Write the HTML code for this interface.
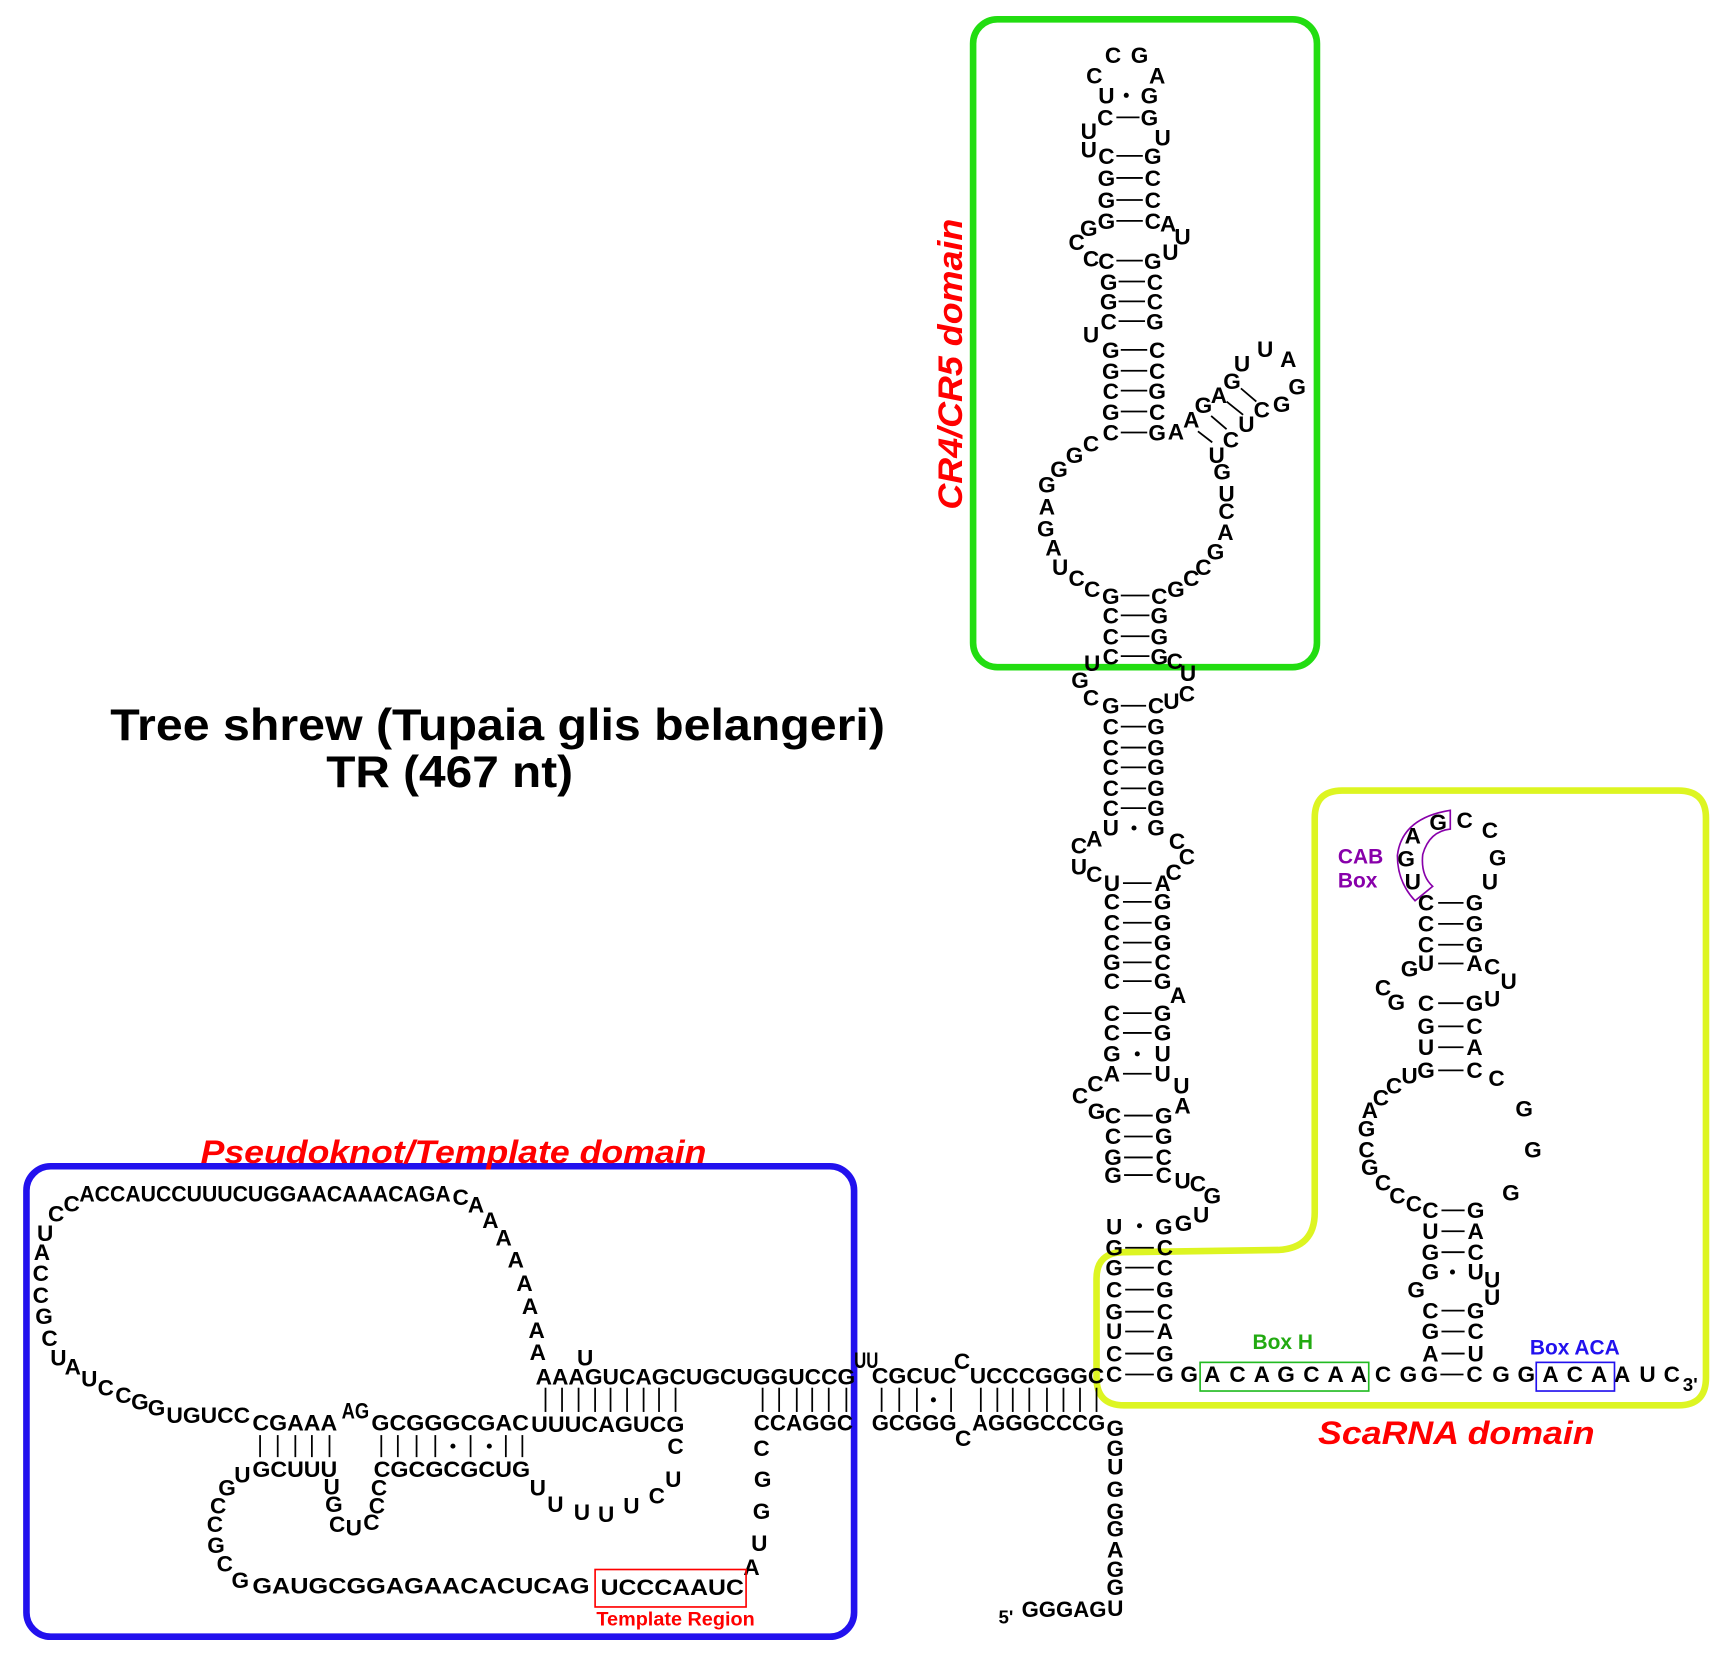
<!DOCTYPE html>
<html><head><meta charset="utf-8"><style>
html,body{margin:0;padding:0;background:#fff;}
svg{display:block}
.n{font-family:"Liberation Sans",sans-serif;font-weight:bold;font-size:20.5px;fill:#000;text-anchor:middle}
.r{font-family:"Liberation Sans",sans-serif;font-weight:bold;font-size:20.5px;fill:#000}
.p{stroke:#000;stroke-width:1.6}
</style></head><body>
<svg width="1728" height="1656" viewBox="0 0 1568 1503" preserveAspectRatio="none" xmlns="http://www.w3.org/2000/svg">
<g transform="translate(0,0.5)">
<!-- boxes -->
<rect x="883" y="17" width="312" height="588" rx="22" fill="none" stroke="#22dd11" stroke-width="6"/>
<rect x="24" y="1058" width="751" height="427" rx="22" fill="none" stroke="#2211ee" stroke-width="6"/>
<path d="M1218,717 H1523 Q1548,717 1548,742 V1250 Q1548,1275 1523,1275 H1020 Q995,1275 995,1250 V1160 Q995,1136 1020,1136 L1160,1134 Q1193,1132 1193,1100 V742 Q1193,717 1218,717 Z" fill="none" stroke="#ddf522" stroke-width="6"/>

<!-- titles -->
<text x="100" y="671" textLength="703" lengthAdjust="spacingAndGlyphs" style="font-family:'Liberation Sans',sans-serif;font-weight:bold;font-size:40px">Tree shrew (Tupaia glis belangeri)</text>
<text x="296" y="714" textLength="224" lengthAdjust="spacingAndGlyphs" style="font-family:'Liberation Sans',sans-serif;font-weight:bold;font-size:40px">TR (467 nt)</text>
<text transform="translate(873,462) rotate(-90)" textLength="264" lengthAdjust="spacingAndGlyphs" style="font-family:'Liberation Sans',sans-serif;font-weight:bold;font-style:italic;font-size:31px;fill:#ff0000">CR4/CR5 domain</text>
<text x="182" y="1055" textLength="459" lengthAdjust="spacingAndGlyphs" style="font-family:'Liberation Sans',sans-serif;font-weight:bold;font-style:italic;font-size:29px;fill:#ff0000">Pseudoknot/Template domain</text>
<text x="1196" y="1310" textLength="251" lengthAdjust="spacingAndGlyphs" style="font-family:'Liberation Sans',sans-serif;font-weight:bold;font-style:italic;font-size:29px;fill:#ff0000">ScaRNA domain</text>

<g transform="translate(0,0.5)">
<!-- CR4/CR5 -->
<g class="n">
<text x="1010" y="56">C</text><text x="1034" y="56">G</text><text x="993" y="75">C</text><text x="1050" y="75">A</text>
<text x="1004" y="93">U</text><text x="1043" y="93">G</text><text x="1003" y="113">C</text><text x="1043" y="113">G</text>
<text x="988" y="125">U</text><text x="1055" y="131">U</text><text x="988" y="142">U</text>
<text x="1004" y="148">C</text><text x="1046" y="148">G</text>
<text x="1004" y="168">G</text><text x="1046" y="168">C</text>
<text x="1004" y="188">G</text><text x="1046" y="188">C</text>
<text x="1004" y="207">G</text><text x="1046" y="207">C</text>
<text x="1060" y="209">A</text><text x="1073" y="221">U</text><text x="988" y="213">G</text><text x="977" y="226">C</text><text x="990" y="241">C</text>
<text x="1004" y="243">C</text><text x="1046" y="243">G</text><text x="1062" y="235">U</text>
<text x="1006" y="262">G</text><text x="1048" y="262">C</text>
<text x="1006" y="280">G</text><text x="1048" y="280">C</text>
<text x="1006" y="298">C</text><text x="1048" y="298">G</text>
<text x="990" y="310">U</text>
<text x="1008" y="324">G</text><text x="1050" y="324">C</text>
<text x="1008" y="343">G</text><text x="1050" y="343">C</text>
<text x="1008" y="361">C</text><text x="1050" y="361">G</text>
<text x="1008" y="380">G</text><text x="1050" y="380">C</text>
<text x="1008" y="399">C</text><text x="1050" y="399">G</text>
<text x="1067" y="398">A</text><text x="1081" y="387">A</text><text x="1092" y="374">G</text><text x="1106" y="365">A</text>
<text x="1118" y="352">G</text><text x="1127" y="336">U</text><text x="1148" y="323">U</text><text x="1169" y="332">A</text>
<text x="1177" y="357">G</text><text x="1163" y="373">G</text><text x="1145" y="378">C</text><text x="1131" y="391">U</text>
<text x="1117" y="405">C</text><text x="1104" y="419">U</text><text x="1109" y="434">G</text><text x="1113" y="454">U</text>
<text x="1113" y="470">C</text><text x="1112" y="489">A</text><text x="1103" y="507">G</text><text x="1092" y="521">C</text>
<text x="1081" y="531">C</text><text x="1067" y="541">G</text>
<text x="990" y="409">C</text><text x="975" y="419">G</text><text x="961" y="432">G</text><text x="950" y="446">G</text>
<text x="950" y="466">A</text><text x="949" y="486">G</text><text x="956" y="503">A</text><text x="962" y="521">U</text>
<text x="977" y="531">C</text><text x="991" y="541">C</text>
<text x="1008" y="547">G</text><text x="1052" y="547">C</text>
<text x="1008" y="565">C</text><text x="1052" y="565">G</text>
<text x="1008" y="584">C</text><text x="1052" y="584">G</text>
<text x="1008" y="602">C</text><text x="1052" y="602">G</text>
<text x="1066" y="606">C</text><text x="1078" y="617">U</text><text x="991" y="608">U</text>
</g>
</g>
<g class="p">
<line x1="1013" y1="106" x2="1034" y2="106"/>
<line x1="1013" y1="141" x2="1037" y2="141"/><line x1="1013" y1="161" x2="1037" y2="161"/><line x1="1013" y1="181" x2="1037" y2="181"/><line x1="1013" y1="200" x2="1037" y2="200"/>
<line x1="1013" y1="236" x2="1037" y2="236"/><line x1="1015" y1="255" x2="1039" y2="255"/><line x1="1015" y1="273" x2="1039" y2="273"/><line x1="1015" y1="291" x2="1039" y2="291"/>
<line x1="1017" y1="317" x2="1041" y2="317"/><line x1="1017" y1="336" x2="1041" y2="336"/><line x1="1017" y1="354" x2="1041" y2="354"/><line x1="1017" y1="373" x2="1041" y2="373"/><line x1="1017" y1="392" x2="1041" y2="392"/>
<line x1="1087" y1="391" x2="1100" y2="401"/><line x1="1099" y1="377" x2="1113" y2="389"/><line x1="1113" y1="364" x2="1128" y2="376"/><line x1="1126" y1="352" x2="1140" y2="364"/>
<line x1="1017" y1="540" x2="1043" y2="540"/><line x1="1017" y1="558" x2="1043" y2="558"/><line x1="1017" y1="577" x2="1043" y2="577"/><line x1="1017" y1="595" x2="1043" y2="595"/>
</g>
<circle cx="1022" cy="86" r="2.3"/>

<!-- middle stem -->
<g class="n">
<text x="980" y="624">G</text><text x="990" y="640">C</text>
<text x="1008" y="647">G</text><text x="1049" y="647">C</text><text x="1063" y="643">U</text><text x="1077" y="636">C</text>
<text x="1008" y="666">C</text><text x="1049" y="666">G</text>
<text x="1008" y="685">C</text><text x="1049" y="685">G</text>
<text x="1008" y="703">C</text><text x="1049" y="703">G</text>
<text x="1008" y="722">C</text><text x="1049" y="722">G</text>
<text x="1008" y="740">C</text><text x="1049" y="740">G</text>
<text x="1008" y="758">U</text><text x="1049" y="758">G</text>
<text x="1068" y="770">C</text><text x="1077" y="784">C</text><text x="1065" y="798">C</text>
<text x="993" y="768">A</text><text x="979" y="774">C</text><text x="979" y="793">U</text><text x="993" y="800">C</text>
<text x="1009" y="808">U</text><text x="1055" y="808">A</text>
<text x="1009" y="825">C</text><text x="1055" y="825">G</text>
<text x="1009" y="844">C</text><text x="1055" y="844">G</text>
<text x="1009" y="862">C</text><text x="1055" y="862">G</text>
<text x="1009" y="880">G</text><text x="1055" y="880">C</text>
<text x="1009" y="897">C</text><text x="1055" y="897">G</text>
<text x="1069" y="910">A</text>
<text x="1009" y="926">C</text><text x="1055" y="926">G</text>
<text x="1009" y="944">C</text><text x="1055" y="944">G</text>
<text x="1009" y="963">G</text><text x="1055" y="963">U</text>
<text x="1009" y="981">A</text><text x="1055" y="981">U</text>
<text x="1072" y="992">U</text><text x="1073" y="1010">A</text>
<text x="994" y="990">C</text><text x="980" y="1001">C</text><text x="995" y="1015">G</text>
<text x="1010" y="1019">C</text><text x="1056" y="1019">G</text>
<text x="1010" y="1038">C</text><text x="1056" y="1038">G</text>
<text x="1010" y="1057">G</text><text x="1056" y="1057">C</text>
<text x="1010" y="1073">G</text><text x="1056" y="1073">C</text>
<text x="1073" y="1078">U</text><text x="1087" y="1081">C</text><text x="1100" y="1092">G</text>
<text x="1090" y="1109">U</text><text x="1074" y="1117">G</text>
<text x="1011" y="1120">U</text><text x="1056" y="1120">G</text>
<text x="1011" y="1139">G</text><text x="1057" y="1139">C</text>
<text x="1011" y="1157">G</text><text x="1057" y="1157">C</text>
<text x="1011" y="1177">C</text><text x="1057" y="1177">G</text>
<text x="1011" y="1197">G</text><text x="1057" y="1197">C</text>
<text x="1011" y="1215">U</text><text x="1057" y="1215">A</text>
<text x="1011" y="1235">C</text><text x="1057" y="1235">G</text>
<text x="1011" y="1254">C</text><text x="1057" y="1254">G</text>
</g>
<g class="p">
<line x1="1017" y1="640" x2="1040" y2="640"/><line x1="1017" y1="659" x2="1040" y2="659"/><line x1="1017" y1="678" x2="1040" y2="678"/><line x1="1017" y1="696" x2="1040" y2="696"/><line x1="1017" y1="715" x2="1040" y2="715"/><line x1="1017" y1="733" x2="1040" y2="733"/>
<line x1="1019" y1="801" x2="1045" y2="801"/><line x1="1019" y1="818" x2="1045" y2="818"/><line x1="1019" y1="837" x2="1045" y2="837"/><line x1="1019" y1="855" x2="1045" y2="855"/><line x1="1019" y1="873" x2="1045" y2="873"/><line x1="1019" y1="890" x2="1045" y2="890"/>
<line x1="1019" y1="919" x2="1045" y2="919"/><line x1="1019" y1="937" x2="1045" y2="937"/><line x1="1019" y1="974" x2="1045" y2="974"/>
<line x1="1020" y1="1012" x2="1046" y2="1012"/><line x1="1020" y1="1031" x2="1046" y2="1031"/><line x1="1020" y1="1050" x2="1046" y2="1050"/><line x1="1020" y1="1066" x2="1046" y2="1066"/>
<line x1="1021" y1="1132" x2="1047" y2="1132"/><line x1="1021" y1="1150" x2="1047" y2="1150"/><line x1="1021" y1="1170" x2="1047" y2="1170"/><line x1="1021" y1="1190" x2="1047" y2="1190"/><line x1="1021" y1="1208" x2="1047" y2="1208"/><line x1="1021" y1="1228" x2="1047" y2="1228"/><line x1="1021" y1="1247" x2="1047" y2="1247"/>
</g>
<circle cx="1029" cy="751" r="2.3"/><circle cx="1032" cy="956" r="2.3"/><circle cx="1034" cy="1112" r="2.3"/>

<!-- ScaRNA row -->
<g class="n">
<text x="1079" y="1254">G</text>
<text x="1100" y="1254">A</text><text x="1123" y="1254">C</text><text x="1145" y="1254">A</text><text x="1167" y="1254">G</text><text x="1190" y="1254">C</text><text x="1212" y="1254">A</text><text x="1233" y="1254">A</text>
<text x="1255" y="1254">C</text><text x="1278" y="1254">G</text><text x="1297" y="1254">G</text>
<text x="1338" y="1254">C</text><text x="1362" y="1254">G</text><text x="1385" y="1254">G</text>
<text x="1407" y="1254">A</text><text x="1429" y="1254">C</text><text x="1451" y="1254">A</text>
<text x="1472" y="1254">A</text><text x="1495" y="1254">U</text><text x="1517" y="1254">C</text>
</g>
<text x="1527" y="1262" style="font-family:'Liberation Sans',sans-serif;font-weight:bold;font-size:17px">3'</text>
<line class="p" x1="1307" y1="1247" x2="1328" y2="1247"/>
<rect x="1089" y="1236" width="153" height="26" fill="none" stroke="#22bb22" stroke-width="1.5"/>
<rect x="1394" y="1236" width="71" height="26" fill="none" stroke="#2211ee" stroke-width="1.5"/>
<text x="1164" y="1224" text-anchor="middle" style="font-family:'Liberation Sans',sans-serif;font-weight:bold;font-size:19px;fill:#22aa11">Box H</text>
<text x="1429" y="1229" text-anchor="middle" style="font-family:'Liberation Sans',sans-serif;font-weight:bold;font-size:19px;fill:#2211ee">Box ACA</text>

<!-- hairpin 2 -->
<path d="M1316,735 L1316,752 Q1297,754 1291,775 Q1289,794 1300,804 L1284,817 Q1268,800 1268,776 Q1272,742 1316,735 Z" fill="none" stroke="#8800aa" stroke-width="1.5"/>
<text x="1214" y="783" style="font-family:'Liberation Sans',sans-serif;font-weight:bold;font-size:19px;fill:#8800aa">CAB</text>
<text x="1214" y="805" style="font-family:'Liberation Sans',sans-serif;font-weight:bold;font-size:19px;fill:#8800aa">Box</text>
<g class="n">
<text x="1282" y="765">A</text><text x="1305" y="753">G</text><text x="1329" y="751">C</text><text x="1352" y="760">C</text>
<text x="1359" y="785">G</text><text x="1352" y="807">U</text><text x="1276" y="786">G</text><text x="1282" y="807">U</text>
<text x="1294" y="826">C</text><text x="1338" y="826">G</text>
<text x="1294" y="845">C</text><text x="1338" y="845">G</text>
<text x="1294" y="864">C</text><text x="1338" y="864">G</text>
<text x="1279" y="886">G</text><text x="1294" y="881">U</text><text x="1338" y="881">A</text><text x="1354" y="884">C</text><text x="1369" y="897">U</text>
<text x="1255" y="903">C</text><text x="1267" y="916">G</text><text x="1294" y="917">C</text><text x="1338" y="917">G</text><text x="1354" y="913">U</text>
<text x="1294" y="938">G</text><text x="1338" y="938">C</text>
<text x="1294" y="957">U</text><text x="1338" y="957">A</text>
<text x="1294" y="978">G</text><text x="1338" y="978">C</text><text x="1358" y="985">C</text>
<text x="1279" y="983">U</text><text x="1265" y="992">C</text><text x="1253" y="1003">C</text><text x="1243" y="1014">A</text>
<text x="1240" y="1031">G</text><text x="1240" y="1050">C</text><text x="1243" y="1066">G</text><text x="1255" y="1080">C</text>
<text x="1268" y="1092">C</text><text x="1283" y="1099">C</text>
<text x="1298" y="1105">C</text><text x="1339" y="1105">G</text>
<text x="1298" y="1124">U</text><text x="1339" y="1124">A</text>
<text x="1298" y="1143">G</text><text x="1339" y="1143">C</text>
<text x="1298" y="1161">G</text><text x="1339" y="1161">U</text>
<text x="1354" y="1168">U</text><text x="1354" y="1184">U</text><text x="1285" y="1177">G</text>
<text x="1298" y="1196">C</text><text x="1339" y="1196">G</text>
<text x="1298" y="1215">G</text><text x="1339" y="1215">C</text>
<text x="1298" y="1235">A</text><text x="1339" y="1235">U</text>
<text x="1383" y="1013">G</text><text x="1391" y="1050">G</text><text x="1371" y="1089">G</text>
</g>
<g class="p">
<line x1="1305" y1="819" x2="1328" y2="819"/><line x1="1305" y1="838" x2="1328" y2="838"/><line x1="1305" y1="857" x2="1328" y2="857"/><line x1="1305" y1="874" x2="1328" y2="874"/>
<line x1="1305" y1="910" x2="1328" y2="910"/><line x1="1305" y1="931" x2="1328" y2="931"/><line x1="1305" y1="950" x2="1328" y2="950"/><line x1="1305" y1="971" x2="1328" y2="971"/>
<line x1="1308" y1="1098" x2="1329" y2="1098"/><line x1="1308" y1="1117" x2="1329" y2="1117"/><line x1="1308" y1="1136" x2="1329" y2="1136"/>
<line x1="1308" y1="1189" x2="1329" y2="1189"/><line x1="1308" y1="1208" x2="1329" y2="1208"/><line x1="1308" y1="1228" x2="1329" y2="1228"/>
</g>
<circle cx="1318" cy="1154" r="2.3"/>

<!-- bottom junction runs -->
<text class="r" x="486" y="1256" textLength="290" lengthAdjust="spacingAndGlyphs">AAAGUCAGCUGCUGGUCCG</text>
<text class="n" x="531" y="1239">U</text>
<text class="r" x="775" y="1241" textLength="22" lengthAdjust="spacingAndGlyphs">UU</text>
<text class="r" x="791" y="1255" textLength="77" lengthAdjust="spacingAndGlyphs">CGCUC</text>
<text class="n" x="873" y="1242">C</text>
<text class="r" x="880" y="1255" textLength="122" lengthAdjust="spacingAndGlyphs">UCCCGGGC</text>
<text class="r" x="684" y="1298" textLength="90" lengthAdjust="spacingAndGlyphs">CCAGGC</text>
<text class="r" x="791" y="1298" textLength="77" lengthAdjust="spacingAndGlyphs">GCGGG</text>
<text class="n" x="874" y="1312">C</text>
<text class="r" x="882" y="1298" textLength="121" lengthAdjust="spacingAndGlyphs">AGGGCCCG</text>
<g class="p">
<line x1="495" y1="1259" x2="495" y2="1281"/><line x1="510" y1="1259" x2="510" y2="1281"/><line x1="525" y1="1259" x2="525" y2="1281"/><line x1="540" y1="1259" x2="540" y2="1281"/><line x1="554" y1="1259" x2="554" y2="1281"/><line x1="569" y1="1259" x2="569" y2="1281"/><line x1="584" y1="1259" x2="584" y2="1281"/><line x1="598" y1="1259" x2="598" y2="1281"/><line x1="613" y1="1259" x2="613" y2="1281"/>
<line x1="692" y1="1259" x2="692" y2="1281"/><line x1="707" y1="1259" x2="707" y2="1281"/><line x1="723" y1="1259" x2="723" y2="1281"/><line x1="737" y1="1259" x2="737" y2="1281"/><line x1="752" y1="1259" x2="752" y2="1281"/><line x1="768" y1="1259" x2="768" y2="1281"/>
<line x1="800" y1="1259" x2="800" y2="1281"/><line x1="816" y1="1259" x2="816" y2="1281"/><line x1="832" y1="1259" x2="832" y2="1281"/><line x1="863" y1="1259" x2="863" y2="1281"/>
<line x1="890" y1="1259" x2="890" y2="1281"/><line x1="905" y1="1259" x2="905" y2="1281"/><line x1="919" y1="1259" x2="919" y2="1281"/><line x1="934" y1="1259" x2="934" y2="1281"/><line x1="950" y1="1259" x2="950" y2="1281"/><line x1="965" y1="1259" x2="965" y2="1281"/><line x1="980" y1="1259" x2="980" y2="1281"/><line x1="995" y1="1259" x2="995" y2="1281"/>
</g>
<circle cx="847" cy="1270" r="2.3"/>
<g class="n">
<text x="691" y="1321">C</text><text x="692" y="1349">G</text><text x="691" y="1378">G</text><text x="689" y="1407">U</text><text x="682" y="1429">A</text>
<text x="1012" y="1303">G</text><text x="1012" y="1321">G</text><text x="1012" y="1338">U</text><text x="1012" y="1358">G</text><text x="1012" y="1378">G</text><text x="1012" y="1394">G</text><text x="1012" y="1413">A</text><text x="1012" y="1431">G</text><text x="1012" y="1447">G</text><text x="1012" y="1466">U</text>
</g>
<text class="r" x="927" y="1467" textLength="77" lengthAdjust="spacingAndGlyphs">GGGAG</text>
<text x="906" y="1473" style="font-family:'Liberation Sans',sans-serif;font-weight:bold;font-size:17px">5'</text>

<!-- pseudoknot -->
<text class="r" x="72" y="1090" textLength="337" lengthAdjust="spacingAndGlyphs">ACCAUCCUUUCUGGAACAAACAGA</text>
<g class="n">
<text x="418" y="1093">C</text><text x="65" y="1099">C</text><text x="51" y="1108">C</text><text x="41" y="1126">U</text><text x="38" y="1143">A</text>
<text x="37" y="1162">C</text><text x="37" y="1182">C</text><text x="40" y="1201">G</text><text x="45" y="1221">C</text><text x="53" y="1239">U</text>
<text x="66" y="1247">A</text><text x="81" y="1258">U</text><text x="96" y="1266">C</text><text x="112" y="1273">C</text><text x="127" y="1279">G</text><text x="142" y="1284">G</text>
<text x="432" y="1100">A</text><text x="445" y="1114">A</text><text x="457" y="1130">A</text><text x="468" y="1150">A</text><text x="476" y="1171">A</text><text x="481" y="1192">A</text><text x="487" y="1214">A</text><text x="488" y="1234">A</text>
<text x="220" y="1345">U</text><text x="301" y="1356">U</text><text x="303" y="1372">G</text><text x="306" y="1390">C</text><text x="321" y="1393">U</text><text x="337" y="1388">C</text>
<text x="342" y="1373">C</text><text x="344" y="1357">C</text>
<text x="206" y="1357">G</text><text x="198" y="1373">C</text><text x="195" y="1390">C</text><text x="196" y="1409">G</text><text x="204" y="1426">C</text><text x="218" y="1441">G</text>
<text x="488" y="1357">U</text><text x="504" y="1372">U</text><text x="528" y="1379">U</text><text x="550" y="1381">U</text><text x="573" y="1373">U</text><text x="596" y="1364">C</text><text x="611" y="1349">U</text><text x="613" y="1319">C</text>
</g>
<text class="r" x="151" y="1291" textLength="76" lengthAdjust="spacingAndGlyphs">UGUCC</text>
<text class="r" x="229" y="1298" textLength="77" lengthAdjust="spacingAndGlyphs">CGAAA</text>
<text class="r" x="310" y="1287" textLength="25" lengthAdjust="spacingAndGlyphs">AG</text>
<text class="r" x="337" y="1298" textLength="143" lengthAdjust="spacingAndGlyphs">GCGGGCGAC</text>
<text class="r" x="482" y="1299" textLength="139" lengthAdjust="spacingAndGlyphs">UUUCAGUCG</text>
<text class="r" x="229" y="1340" textLength="77" lengthAdjust="spacingAndGlyphs">GCUUU</text>
<text class="r" x="339" y="1340" textLength="142" lengthAdjust="spacingAndGlyphs">CGCGCGCUG</text>
<text class="r" x="229" y="1446" textLength="306" lengthAdjust="spacingAndGlyphs">GAUGCGGAGAACACUCAG</text>
<text class="r" x="545" y="1447" textLength="130" lengthAdjust="spacingAndGlyphs">UCCCAAUC</text>
<rect x="540" y="1424" width="137" height="34" fill="none" stroke="#ff0000" stroke-width="1.5"/>
<text x="613" y="1475" text-anchor="middle" style="font-family:'Liberation Sans',sans-serif;font-weight:bold;font-size:18px;fill:#ff0000">Template Region</text>
<g class="p">
<line x1="236" y1="1302" x2="236" y2="1322"/><line x1="252" y1="1302" x2="252" y2="1322"/><line x1="268" y1="1302" x2="268" y2="1322"/><line x1="283" y1="1302" x2="283" y2="1322"/><line x1="299" y1="1302" x2="299" y2="1322"/>
<line x1="346" y1="1302" x2="346" y2="1322"/><line x1="361" y1="1302" x2="361" y2="1322"/><line x1="378" y1="1302" x2="378" y2="1322"/><line x1="395" y1="1302" x2="395" y2="1322"/><line x1="427" y1="1302" x2="427" y2="1322"/><line x1="459" y1="1302" x2="459" y2="1322"/><line x1="474" y1="1302" x2="474" y2="1322"/>
</g>
<circle cx="411" cy="1312" r="2.3"/><circle cx="444" cy="1312" r="2.3"/>
</g>
</svg>
</body></html>
